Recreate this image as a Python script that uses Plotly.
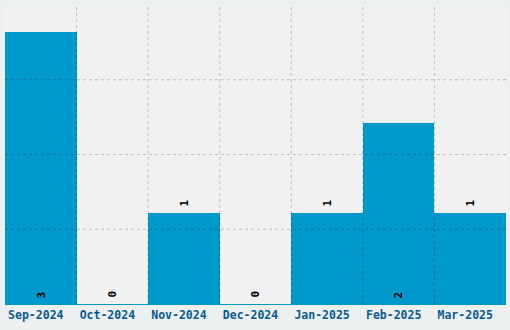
import plotly.graph_objects as go

categories = ["Sep-2024", "Oct-2024", "Nov-2024", "Dec-2024", "Jan-2025", "Feb-2025", "Mar-2025"]
counts = [3, 0, 1, 0, 1, 2, 1]

BAR = "#0099cc"
Y_MAX = 3.3
FONT = "DejaVu Sans Mono"

positions = ["inside" if v >= 2 else "outside" for v in counts]
# small leading pad so rotated labels sit a little higher, as in the reference
pad = {"inside": '<span style="font-size:4px">\u00a0</span>',
       "outside": '<span style="font-size:6px">\u00a0</span>'}
labels = [pad[p] + str(v) for v, p in zip(counts, positions)]

fig = go.Figure(go.Bar(
    x=categories,
    y=counts,
    marker=dict(color=BAR, line=dict(width=0)),
    text=labels,
    textposition=positions,
    insidetextanchor="start",
    textangle=-90,
    textfont=dict(family=FONT, size=11, color="black", weight="bold"),
    cliponaxis=False,
    hoverinfo="x+y",
))

shapes = []
grid = dict(color="rgba(0,0,0,0.22)", width=1, dash="dot")
for i in range(len(categories) - 1):
    shapes.append(dict(type="line", xref="x", yref="paper", x0=i + 0.5, x1=i + 0.5,
                       y0=0, y1=1, line=grid, layer="above"))
for k in range(1, 4):
    yv = Y_MAX * k / 4
    shapes.append(dict(type="line", xref="paper", yref="y", x0=0, x1=1,
                       y0=yv, y1=yv, line=grid, layer="above"))

fig.update_layout(
    width=510, height=330,
    margin=dict(l=5, r=4, t=5, b=26),
    paper_bgcolor="#ecf0f1",
    plot_bgcolor="#f1f1f1",
    bargap=0,
    showlegend=False,
    shapes=shapes,
    xaxis=dict(
        type="category",
        showgrid=False,
        showline=True, linecolor=BAR, linewidth=1,
        ticks="",
        ticklabelshift=-5,
        tickfont=dict(family=FONT, size=11.5, color="#0a5a92", weight="bold"),
        range=[-0.5, len(categories) - 0.5],
        fixedrange=True,
    ),
    yaxis=dict(
        range=[0, Y_MAX],
        showgrid=False,
        zeroline=False,
        showticklabels=False,
        fixedrange=True,
    ),
)

fig.write_html("out.html")
